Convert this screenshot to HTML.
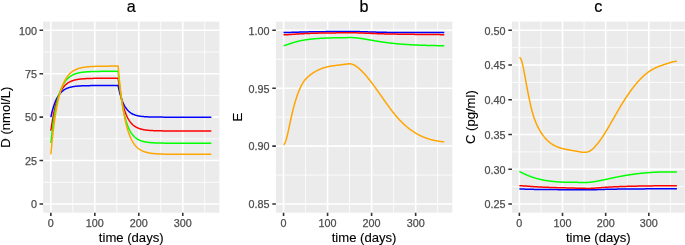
<!DOCTYPE html>
<html><head><meta charset="utf-8"><title>Figure</title>
<style>
html,body{margin:0;padding:0;background:#fff;width:685px;height:245px;overflow:hidden}
svg{display:block}
text{font-family:"Liberation Sans",Arial,Helvetica,sans-serif}
.ax{font-size:10.8px;fill:#4D4D4D;stroke:#4D4D4D;stroke-width:0.25px}
.at{font-size:13.1px;fill:#000;stroke:#000;stroke-width:0.12px}
.tt{font-size:16.1px;fill:#000;stroke:#000;stroke-width:0.2px}
</style></head><body>
<svg width="685" height="245" viewBox="0 0 685 245">
<rect width="685" height="245" fill="#FFFFFF"/>
<rect x="43.1" y="21.6" width="176.26" height="191.1" fill="#EBEBEB"/>
<path d="M43.1 182.29H219.36M43.1 138.86H219.36M43.1 95.44H219.36M43.1 52.01H219.36M72.84 21.6V212.7M116.81 21.6V212.7M160.78 21.6V212.7M204.74 21.6V212.7" stroke="#FFFFFF" stroke-width="0.8" fill="none"/>
<path d="M43.1 204H219.36M43.1 160.57H219.36M43.1 117.15H219.36M43.1 73.72H219.36M43.1 30.3H219.36M50.85 21.6V212.7M94.82 21.6V212.7M138.79 21.6V212.7M182.76 21.6V212.7" stroke="#FFFFFF" stroke-width="1.6" fill="none"/>
<polyline points="50.85,117.15 51.29,115.13 51.73,113.24 52.17,111.47 52.61,109.81 53.05,108.26 53.49,106.81 53.93,105.45 54.37,104.18 54.81,102.99 55.25,101.88 55.69,100.83 56.13,99.86 56.57,98.94 57.01,98.08 57.45,97.28 57.89,96.53 58.32,95.83 58.76,95.17 59.2,94.56 59.64,93.98 60.08,93.44 60.52,92.94 60.96,92.46 61.4,92.02 61.84,91.61 62.28,91.22 62.72,90.86 63.16,90.52 63.6,90.2 64.04,89.9 64.48,89.62 64.92,89.36 65.36,89.12 65.8,88.89 66.24,88.67 66.68,88.47 67.12,88.29 67.56,88.11 68,87.95 68.44,87.79 68.88,87.65 69.32,87.51 69.76,87.39 70.2,87.27 70.64,87.16 71.08,87.05 71.52,86.96 71.96,86.87 72.4,86.78 72.84,86.7 73.27,86.63 73.71,86.56 74.15,86.49 74.59,86.43 75.03,86.37 75.47,86.32 75.91,86.27 76.35,86.22 76.79,86.18 77.23,86.14 77.67,86.1 78.11,86.06 78.55,86.03 78.99,86 79.43,85.97 79.87,85.94 80.31,85.92 80.75,85.89 81.19,85.87 81.63,85.85 82.07,85.83 82.51,85.81 82.95,85.79 83.39,85.78 83.83,85.76 84.27,85.75 84.71,85.73 85.15,85.72 85.59,85.71 86.03,85.7 86.47,85.69 86.91,85.68 87.35,85.67 87.78,85.66 88.22,85.65 88.66,85.64 89.1,85.64 89.54,85.63 89.98,85.63 90.42,85.62 90.86,85.61 91.3,85.61 91.74,85.6 92.18,85.6 92.62,85.6 93.06,85.59 93.5,85.59 93.94,85.59 94.38,85.58 94.82,85.58 95.26,85.58 95.7,85.57 96.14,85.57 96.58,85.57 97.02,85.57 97.46,85.57 97.9,85.56 98.34,85.56 98.78,85.56 99.22,85.56 99.66,85.56 100.1,85.56 100.54,85.55 100.98,85.55 101.42,85.55 101.86,85.55 102.29,85.55 102.73,85.55 103.17,85.55 103.61,85.55 104.05,85.55 104.49,85.55 104.93,85.55 105.37,85.55 105.81,85.54 106.25,85.54 106.69,85.54 107.13,85.54 107.57,85.54 108.01,85.54 108.45,85.54 108.89,85.54 109.33,85.54 109.77,85.54 110.21,85.54 110.65,85.54 111.09,85.54 111.53,85.54 111.97,85.54 112.41,85.54 112.85,85.54 113.29,85.54 113.73,85.54 114.17,85.54 114.61,85.54 115.05,85.54 115.49,85.54 115.93,85.54 116.37,85.54 116.81,85.54 117.24,85.54 117.68,85.54 118.12,85.54 118.56,87.68 119,89.67 119.44,91.53 119.88,93.26 120.32,94.87 120.76,96.38 121.2,97.78 121.64,99.09 122.08,100.31 122.52,101.45 122.96,102.51 123.4,103.5 123.84,104.43 124.28,105.29 124.72,106.09 125.16,106.84 125.6,107.53 126.04,108.18 126.48,108.79 126.92,109.35 127.36,109.88 127.8,110.37 128.24,110.83 128.68,111.26 129.12,111.66 129.56,112.03 130,112.37 130.44,112.7 130.88,113 131.32,113.28 131.75,113.54 132.19,113.78 132.63,114.01 133.07,114.22 133.51,114.42 133.95,114.61 134.39,114.78 134.83,114.94 135.27,115.09 135.71,115.23 136.15,115.36 136.59,115.48 137.03,115.59 137.47,115.7 137.91,115.8 138.35,115.89 138.79,115.97 139.23,116.05 139.67,116.13 140.11,116.2 140.55,116.26 140.99,116.32 141.43,116.38 141.87,116.43 142.31,116.48 142.75,116.52 143.19,116.57 143.63,116.6 144.07,116.64 144.51,116.68 144.95,116.71 145.39,116.74 145.83,116.77 146.26,116.79 146.7,116.82 147.14,116.84 147.58,116.86 148.02,116.88 148.46,116.9 148.9,116.91 149.34,116.93 149.78,116.95 150.22,116.96 150.66,116.97 151.1,116.98 151.54,117 151.98,117.01 152.42,117.02 152.86,117.02 153.3,117.03 153.74,117.04 154.18,117.05 154.62,117.06 155.06,117.06 155.5,117.07 155.94,117.07 156.38,117.08 156.82,117.08 157.26,117.09 157.7,117.09 158.14,117.1 158.58,117.1 159.02,117.1 159.46,117.11 159.9,117.11 160.34,117.11 160.78,117.11 161.21,117.12 161.65,117.12 162.09,117.12 162.53,117.12 162.97,117.12 163.41,117.13 163.85,117.13 164.29,117.13 164.73,117.13 165.17,117.13 165.61,117.13 166.05,117.13 166.49,117.14 166.93,117.14 167.37,117.14 167.81,117.14 168.25,117.14 168.69,117.14 169.13,117.14 169.57,117.14 170.01,117.14 170.45,117.14 170.89,117.14 171.33,117.14 171.77,117.14 172.21,117.14 172.65,117.14 173.09,117.14 173.53,117.15 173.97,117.15 174.41,117.15 174.85,117.15 175.29,117.15 175.72,117.15 176.16,117.15 176.6,117.15 177.04,117.15 177.48,117.15 177.92,117.15 178.36,117.15 178.8,117.15 179.24,117.15 179.68,117.15 180.12,117.15 180.56,117.15 181,117.15 181.44,117.15 181.88,117.15 182.32,117.15 182.76,117.15 183.2,117.15 183.64,117.15 184.08,117.15 184.52,117.15 184.96,117.15 185.4,117.15 185.84,117.15 186.28,117.15 186.72,117.15 187.16,117.15 187.6,117.15 188.04,117.15 188.48,117.15 188.92,117.15 189.36,117.15 189.8,117.15 190.23,117.15 190.67,117.15 191.11,117.15 191.55,117.15 191.99,117.15 192.43,117.15 192.87,117.15 193.31,117.15 193.75,117.15 194.19,117.15 194.63,117.15 195.07,117.15 195.51,117.15 195.95,117.15 196.39,117.15 196.83,117.15 197.27,117.15 197.71,117.15 198.15,117.15 198.59,117.15 199.03,117.15 199.47,117.15 199.91,117.15 200.35,117.15 200.79,117.15 201.23,117.15 201.67,117.15 202.11,117.15 202.55,117.15 202.99,117.15 203.43,117.15 203.87,117.15 204.31,117.15 204.74,117.15 205.18,117.15 205.62,117.15 206.06,117.15 206.5,117.15 206.94,117.15 207.38,117.15 207.82,117.15 208.26,117.15 208.7,117.15 209.14,117.15 209.58,117.15 210.02,117.15 210.46,117.15 210.9,117.15 211.34,117.15" stroke="#0000FF" stroke-width="1.5" fill="none" stroke-linejoin="round" stroke-linecap="butt"/>
<polyline points="50.85,130.96 51.29,127.79 51.73,124.81 52.17,122.01 52.61,119.38 53.05,116.91 53.49,114.58 53.93,112.4 54.37,110.34 54.81,108.41 55.25,106.6 55.69,104.9 56.13,103.29 56.57,101.79 57.01,100.37 57.45,99.04 57.89,97.79 58.32,96.62 58.76,95.51 59.2,94.47 59.64,93.5 60.08,92.58 60.52,91.72 60.96,90.91 61.4,90.15 61.84,89.43 62.28,88.76 62.72,88.13 63.16,87.53 63.6,86.97 64.04,86.45 64.48,85.95 64.92,85.49 65.36,85.06 65.8,84.65 66.24,84.26 66.68,83.9 67.12,83.56 67.56,83.24 68,82.94 68.44,82.66 68.88,82.39 69.32,82.14 69.76,81.91 70.2,81.69 70.64,81.48 71.08,81.28 71.52,81.1 71.96,80.93 72.4,80.77 72.84,80.62 73.27,80.47 73.71,80.34 74.15,80.21 74.59,80.09 75.03,79.98 75.47,79.88 75.91,79.78 76.35,79.69 76.79,79.6 77.23,79.52 77.67,79.44 78.11,79.37 78.55,79.3 78.99,79.24 79.43,79.18 79.87,79.12 80.31,79.07 80.75,79.02 81.19,78.97 81.63,78.93 82.07,78.89 82.51,78.85 82.95,78.81 83.39,78.78 83.83,78.75 84.27,78.71 84.71,78.69 85.15,78.66 85.59,78.63 86.03,78.61 86.47,78.59 86.91,78.57 87.35,78.55 87.78,78.53 88.22,78.51 88.66,78.5 89.1,78.48 89.54,78.47 89.98,78.45 90.42,78.44 90.86,78.43 91.3,78.42 91.74,78.41 92.18,78.4 92.62,78.39 93.06,78.38 93.5,78.37 93.94,78.36 94.38,78.36 94.82,78.35 95.26,78.34 95.7,78.34 96.14,78.33 96.58,78.32 97.02,78.32 97.46,78.31 97.9,78.31 98.34,78.31 98.78,78.3 99.22,78.3 99.66,78.3 100.1,78.29 100.54,78.29 100.98,78.29 101.42,78.28 101.86,78.28 102.29,78.28 102.73,78.28 103.17,78.27 103.61,78.27 104.05,78.27 104.49,78.27 104.93,78.27 105.37,78.27 105.81,78.26 106.25,78.26 106.69,78.26 107.13,78.26 107.57,78.26 108.01,78.26 108.45,78.26 108.89,78.26 109.33,78.26 109.77,78.25 110.21,78.25 110.65,78.25 111.09,78.25 111.53,78.25 111.97,78.25 112.41,78.25 112.85,78.25 113.29,78.25 113.73,78.25 114.17,78.25 114.61,78.25 115.05,78.25 115.49,78.25 115.93,78.25 116.37,78.25 116.81,78.25 117.24,78.25 117.68,78.25 118.12,78.25 118.56,81.51 119,84.58 119.44,87.45 119.88,90.15 120.32,92.68 120.76,95.05 121.2,97.28 121.64,99.37 122.08,101.33 122.52,103.16 122.96,104.89 123.4,106.5 123.84,108.02 124.28,109.44 124.72,110.78 125.16,112.03 125.6,113.2 126.04,114.3 126.48,115.33 126.92,116.3 127.36,117.21 127.8,118.06 128.24,118.86 128.68,119.61 129.12,120.32 129.56,120.98 130,121.6 130.44,122.18 130.88,122.72 131.32,123.23 131.75,123.71 132.19,124.16 132.63,124.58 133.07,124.98 133.51,125.35 133.95,125.7 134.39,126.02 134.83,126.33 135.27,126.61 135.71,126.88 136.15,127.14 136.59,127.37 137.03,127.6 137.47,127.8 137.91,128 138.35,128.18 138.79,128.36 139.23,128.52 139.67,128.67 140.11,128.81 140.55,128.94 140.99,129.07 141.43,129.19 141.87,129.3 142.31,129.4 142.75,129.5 143.19,129.59 143.63,129.67 144.07,129.75 144.51,129.83 144.95,129.9 145.39,129.96 145.83,130.02 146.26,130.08 146.7,130.14 147.14,130.19 147.58,130.24 148.02,130.28 148.46,130.32 148.9,130.36 149.34,130.4 149.78,130.43 150.22,130.47 150.66,130.5 151.1,130.53 151.54,130.55 151.98,130.58 152.42,130.6 152.86,130.62 153.3,130.64 153.74,130.66 154.18,130.68 154.62,130.7 155.06,130.72 155.5,130.73 155.94,130.74 156.38,130.76 156.82,130.77 157.26,130.78 157.7,130.79 158.14,130.8 158.58,130.81 159.02,130.82 159.46,130.83 159.9,130.84 160.34,130.85 160.78,130.85 161.21,130.86 161.65,130.87 162.09,130.87 162.53,130.88 162.97,130.88 163.41,130.89 163.85,130.89 164.29,130.9 164.73,130.9 165.17,130.9 165.61,130.91 166.05,130.91 166.49,130.91 166.93,130.92 167.37,130.92 167.81,130.92 168.25,130.92 168.69,130.93 169.13,130.93 169.57,130.93 170.01,130.93 170.45,130.93 170.89,130.93 171.33,130.94 171.77,130.94 172.21,130.94 172.65,130.94 173.09,130.94 173.53,130.94 173.97,130.94 174.41,130.94 174.85,130.95 175.29,130.95 175.72,130.95 176.16,130.95 176.6,130.95 177.04,130.95 177.48,130.95 177.92,130.95 178.36,130.95 178.8,130.95 179.24,130.95 179.68,130.95 180.12,130.95 180.56,130.95 181,130.95 181.44,130.95 181.88,130.95 182.32,130.95 182.76,130.95 183.2,130.96 183.64,130.96 184.08,130.96 184.52,130.96 184.96,130.96 185.4,130.96 185.84,130.96 186.28,130.96 186.72,130.96 187.16,130.96 187.6,130.96 188.04,130.96 188.48,130.96 188.92,130.96 189.36,130.96 189.8,130.96 190.23,130.96 190.67,130.96 191.11,130.96 191.55,130.96 191.99,130.96 192.43,130.96 192.87,130.96 193.31,130.96 193.75,130.96 194.19,130.96 194.63,130.96 195.07,130.96 195.51,130.96 195.95,130.96 196.39,130.96 196.83,130.96 197.27,130.96 197.71,130.96 198.15,130.96 198.59,130.96 199.03,130.96 199.47,130.96 199.91,130.96 200.35,130.96 200.79,130.96 201.23,130.96 201.67,130.96 202.11,130.96 202.55,130.96 202.99,130.96 203.43,130.96 203.87,130.96 204.31,130.96 204.74,130.96 205.18,130.96 205.62,130.96 206.06,130.96 206.5,130.96 206.94,130.96 207.38,130.96 207.82,130.96 208.26,130.96 208.7,130.96 209.14,130.96 209.58,130.96 210.02,130.96 210.46,130.96 210.9,130.96 211.34,130.96" stroke="#FF0000" stroke-width="1.5" fill="none" stroke-linejoin="round" stroke-linecap="butt"/>
<polyline points="50.85,143.2 51.29,139.02 51.73,135.07 52.17,131.36 52.61,127.86 53.05,124.57 53.49,121.46 53.93,118.54 54.37,115.79 54.81,113.2 55.25,110.76 55.69,108.46 56.13,106.3 56.57,104.26 57.01,102.34 57.45,100.53 57.89,98.83 58.32,97.22 58.76,95.71 59.2,94.29 59.64,92.95 60.08,91.69 60.52,90.5 60.96,89.38 61.4,88.33 61.84,87.34 62.28,86.4 62.72,85.52 63.16,84.7 63.6,83.92 64.04,83.18 64.48,82.49 64.92,81.84 65.36,81.22 65.8,80.64 66.24,80.1 66.68,79.59 67.12,79.1 67.56,78.65 68,78.22 68.44,77.82 68.88,77.44 69.32,77.08 69.76,76.74 70.2,76.42 70.64,76.13 71.08,75.84 71.52,75.58 71.96,75.33 72.4,75.09 72.84,74.87 73.27,74.66 73.71,74.47 74.15,74.28 74.59,74.11 75.03,73.95 75.47,73.79 75.91,73.65 76.35,73.51 76.79,73.38 77.23,73.26 77.67,73.14 78.11,73.04 78.55,72.93 78.99,72.84 79.43,72.75 79.87,72.66 80.31,72.58 80.75,72.51 81.19,72.44 81.63,72.37 82.07,72.31 82.51,72.25 82.95,72.19 83.39,72.14 83.83,72.09 84.27,72.05 84.71,72 85.15,71.96 85.59,71.92 86.03,71.89 86.47,71.85 86.91,71.82 87.35,71.79 87.78,71.76 88.22,71.73 88.66,71.71 89.1,71.68 89.54,71.66 89.98,71.64 90.42,71.62 90.86,71.6 91.3,71.58 91.74,71.56 92.18,71.55 92.62,71.53 93.06,71.52 93.5,71.51 93.94,71.49 94.38,71.48 94.82,71.47 95.26,71.46 95.7,71.45 96.14,71.44 96.58,71.43 97.02,71.43 97.46,71.42 97.9,71.41 98.34,71.4 98.78,71.4 99.22,71.39 99.66,71.39 100.1,71.38 100.54,71.37 100.98,71.37 101.42,71.37 101.86,71.36 102.29,71.36 102.73,71.35 103.17,71.35 103.61,71.35 104.05,71.34 104.49,71.34 104.93,71.34 105.37,71.34 105.81,71.33 106.25,71.33 106.69,71.33 107.13,71.33 107.57,71.32 108.01,71.32 108.45,71.32 108.89,71.32 109.33,71.32 109.77,71.32 110.21,71.32 110.65,71.31 111.09,71.31 111.53,71.31 111.97,71.31 112.41,71.31 112.85,71.31 113.29,71.31 113.73,71.31 114.17,71.31 114.61,71.31 115.05,71.3 115.49,71.3 115.93,71.3 116.37,71.3 116.81,71.3 117.24,71.3 117.68,71.3 118.12,71.3 118.56,75.83 119,80.07 119.44,84.04 119.88,87.76 120.32,91.25 120.76,94.52 121.2,97.59 121.64,100.46 122.08,103.15 122.52,105.67 122.96,108.03 123.4,110.24 123.84,112.32 124.28,114.26 124.72,116.08 125.16,117.79 125.6,119.39 126.04,120.89 126.48,122.29 126.92,123.61 127.36,124.84 127.8,126 128.24,127.08 128.68,128.1 129.12,129.05 129.56,129.94 130,130.77 130.44,131.55 130.88,132.29 131.32,132.97 131.75,133.62 132.19,134.22 132.63,134.79 133.07,135.32 133.51,135.81 133.95,136.28 134.39,136.71 134.83,137.12 135.27,137.51 135.71,137.86 136.15,138.2 136.59,138.52 137.03,138.81 137.47,139.09 137.91,139.35 138.35,139.59 138.79,139.82 139.23,140.03 139.67,140.23 140.11,140.42 140.55,140.59 140.99,140.76 141.43,140.91 141.87,141.06 142.31,141.19 142.75,141.32 143.19,141.44 143.63,141.55 144.07,141.65 144.51,141.75 144.95,141.84 145.39,141.93 145.83,142.01 146.26,142.08 146.7,142.15 147.14,142.22 147.58,142.28 148.02,142.34 148.46,142.39 148.9,142.45 149.34,142.49 149.78,142.54 150.22,142.58 150.66,142.62 151.1,142.66 151.54,142.69 151.98,142.72 152.42,142.75 152.86,142.78 153.3,142.81 153.74,142.83 154.18,142.86 154.62,142.88 155.06,142.9 155.5,142.92 155.94,142.94 156.38,142.95 156.82,142.97 157.26,142.98 157.7,143 158.14,143.01 158.58,143.02 159.02,143.03 159.46,143.05 159.9,143.06 160.34,143.06 160.78,143.07 161.21,143.08 161.65,143.09 162.09,143.1 162.53,143.1 162.97,143.11 163.41,143.12 163.85,143.12 164.29,143.13 164.73,143.13 165.17,143.14 165.61,143.14 166.05,143.14 166.49,143.15 166.93,143.15 167.37,143.16 167.81,143.16 168.25,143.16 168.69,143.16 169.13,143.17 169.57,143.17 170.01,143.17 170.45,143.17 170.89,143.18 171.33,143.18 171.77,143.18 172.21,143.18 172.65,143.18 173.09,143.18 173.53,143.19 173.97,143.19 174.41,143.19 174.85,143.19 175.29,143.19 175.72,143.19 176.16,143.19 176.6,143.19 177.04,143.19 177.48,143.19 177.92,143.19 178.36,143.2 178.8,143.2 179.24,143.2 179.68,143.2 180.12,143.2 180.56,143.2 181,143.2 181.44,143.2 181.88,143.2 182.32,143.2 182.76,143.2 183.2,143.2 183.64,143.2 184.08,143.2 184.52,143.2 184.96,143.2 185.4,143.2 185.84,143.2 186.28,143.2 186.72,143.2 187.16,143.2 187.6,143.2 188.04,143.2 188.48,143.2 188.92,143.2 189.36,143.2 189.8,143.2 190.23,143.2 190.67,143.2 191.11,143.2 191.55,143.2 191.99,143.2 192.43,143.2 192.87,143.2 193.31,143.2 193.75,143.2 194.19,143.2 194.63,143.2 195.07,143.2 195.51,143.2 195.95,143.2 196.39,143.2 196.83,143.2 197.27,143.2 197.71,143.2 198.15,143.2 198.59,143.2 199.03,143.2 199.47,143.2 199.91,143.2 200.35,143.2 200.79,143.2 201.23,143.2 201.67,143.2 202.11,143.2 202.55,143.2 202.99,143.2 203.43,143.2 203.87,143.2 204.31,143.2 204.74,143.2 205.18,143.2 205.62,143.2 206.06,143.2 206.5,143.2 206.94,143.2 207.38,143.2 207.82,143.2 208.26,143.2 208.7,143.2 209.14,143.2 209.58,143.2 210.02,143.2 210.46,143.2 210.9,143.2 211.34,143.2" stroke="#00FF00" stroke-width="1.5" fill="none" stroke-linejoin="round" stroke-linecap="butt"/>
<polyline points="50.85,154.32 51.29,149.43 51.73,144.81 52.17,140.45 52.61,136.33 53.05,132.44 53.49,128.76 53.93,125.29 54.37,122.01 54.81,118.91 55.25,115.98 55.69,113.22 56.13,110.61 56.57,108.14 57.01,105.81 57.45,103.61 57.89,101.53 58.32,99.57 58.76,97.71 59.2,95.96 59.64,94.3 60.08,92.74 60.52,91.26 60.96,89.87 61.4,88.55 61.84,87.3 62.28,86.13 62.72,85.02 63.16,83.97 63.6,82.98 64.04,82.04 64.48,81.16 64.92,80.32 65.36,79.53 65.8,78.79 66.24,78.08 66.68,77.42 67.12,76.79 67.56,76.2 68,75.64 68.44,75.11 68.88,74.61 69.32,74.14 69.76,73.69 70.2,73.27 70.64,72.87 71.08,72.49 71.52,72.14 71.96,71.8 72.4,71.49 72.84,71.19 73.27,70.9 73.71,70.64 74.15,70.38 74.59,70.15 75.03,69.92 75.47,69.71 75.91,69.51 76.35,69.32 76.79,69.14 77.23,68.97 77.67,68.81 78.11,68.66 78.55,68.52 78.99,68.38 79.43,68.25 79.87,68.13 80.31,68.02 80.75,67.91 81.19,67.81 81.63,67.71 82.07,67.62 82.51,67.54 82.95,67.46 83.39,67.38 83.83,67.31 84.27,67.24 84.71,67.18 85.15,67.12 85.59,67.06 86.03,67.01 86.47,66.95 86.91,66.91 87.35,66.86 87.78,66.82 88.22,66.78 88.66,66.74 89.1,66.7 89.54,66.67 89.98,66.63 90.42,66.6 90.86,66.58 91.3,66.55 91.74,66.52 92.18,66.5 92.62,66.47 93.06,66.45 93.5,66.43 93.94,66.41 94.38,66.39 94.82,66.38 95.26,66.36 95.7,66.35 96.14,66.33 96.58,66.32 97.02,66.3 97.46,66.29 97.9,66.28 98.34,66.27 98.78,66.26 99.22,66.25 99.66,66.24 100.1,66.23 100.54,66.22 100.98,66.22 101.42,66.21 101.86,66.2 102.29,66.19 102.73,66.19 103.17,66.18 103.61,66.18 104.05,66.17 104.49,66.17 104.93,66.16 105.37,66.16 105.81,66.15 106.25,66.15 106.69,66.15 107.13,66.14 107.57,66.14 108.01,66.14 108.45,66.13 108.89,66.13 109.33,66.13 109.77,66.12 110.21,66.12 110.65,66.12 111.09,66.12 111.53,66.12 111.97,66.11 112.41,66.11 112.85,66.11 113.29,66.11 113.73,66.11 114.17,66.11 114.61,66.1 115.05,66.1 115.49,66.1 115.93,66.1 116.37,66.1 116.81,66.1 117.24,66.1 117.68,66.1 118.12,66.1 118.56,71.15 119,75.92 119.44,80.41 119.88,84.64 120.32,88.64 120.76,92.4 121.2,95.95 121.64,99.29 122.08,102.44 122.52,105.42 122.96,108.22 123.4,110.86 123.84,113.35 124.28,115.7 124.72,117.91 125.16,120 125.6,121.96 126.04,123.82 126.48,125.56 126.92,127.21 127.36,128.77 127.8,130.23 128.24,131.61 128.68,132.91 129.12,134.14 129.56,135.29 130,136.38 130.44,137.41 130.88,138.38 131.32,139.29 131.75,140.16 132.19,140.97 132.63,141.73 133.07,142.45 133.51,143.13 133.95,143.77 134.39,144.38 134.83,144.95 135.27,145.49 135.71,145.99 136.15,146.47 136.59,146.92 137.03,147.34 137.47,147.74 137.91,148.12 138.35,148.48 138.79,148.81 139.23,149.13 139.67,149.42 140.11,149.7 140.55,149.97 140.99,150.22 141.43,150.45 141.87,150.67 142.31,150.88 142.75,151.08 143.19,151.27 143.63,151.44 144.07,151.61 144.51,151.76 144.95,151.91 145.39,152.05 145.83,152.18 146.26,152.3 146.7,152.42 147.14,152.53 147.58,152.63 148.02,152.73 148.46,152.82 148.9,152.9 149.34,152.98 149.78,153.06 150.22,153.13 150.66,153.2 151.1,153.27 151.54,153.33 151.98,153.38 152.42,153.44 152.86,153.49 153.3,153.54 153.74,153.58 154.18,153.62 154.62,153.66 155.06,153.7 155.5,153.74 155.94,153.77 156.38,153.8 156.82,153.83 157.26,153.86 157.7,153.89 158.14,153.91 158.58,153.93 159.02,153.96 159.46,153.98 159.9,154 160.34,154.02 160.78,154.03 161.21,154.05 161.65,154.07 162.09,154.08 162.53,154.09 162.97,154.11 163.41,154.12 163.85,154.13 164.29,154.14 164.73,154.15 165.17,154.16 165.61,154.17 166.05,154.18 166.49,154.19 166.93,154.2 167.37,154.2 167.81,154.21 168.25,154.22 168.69,154.22 169.13,154.23 169.57,154.23 170.01,154.24 170.45,154.24 170.89,154.25 171.33,154.25 171.77,154.26 172.21,154.26 172.65,154.26 173.09,154.27 173.53,154.27 173.97,154.27 174.41,154.28 174.85,154.28 175.29,154.28 175.72,154.28 176.16,154.29 176.6,154.29 177.04,154.29 177.48,154.29 177.92,154.29 178.36,154.29 178.8,154.3 179.24,154.3 179.68,154.3 180.12,154.3 180.56,154.3 181,154.3 181.44,154.3 181.88,154.3 182.32,154.31 182.76,154.31 183.2,154.31 183.64,154.31 184.08,154.31 184.52,154.31 184.96,154.31 185.4,154.31 185.84,154.31 186.28,154.31 186.72,154.31 187.16,154.31 187.6,154.31 188.04,154.31 188.48,154.31 188.92,154.32 189.36,154.32 189.8,154.32 190.23,154.32 190.67,154.32 191.11,154.32 191.55,154.32 191.99,154.32 192.43,154.32 192.87,154.32 193.31,154.32 193.75,154.32 194.19,154.32 194.63,154.32 195.07,154.32 195.51,154.32 195.95,154.32 196.39,154.32 196.83,154.32 197.27,154.32 197.71,154.32 198.15,154.32 198.59,154.32 199.03,154.32 199.47,154.32 199.91,154.32 200.35,154.32 200.79,154.32 201.23,154.32 201.67,154.32 202.11,154.32 202.55,154.32 202.99,154.32 203.43,154.32 203.87,154.32 204.31,154.32 204.74,154.32 205.18,154.32 205.62,154.32 206.06,154.32 206.5,154.32 206.94,154.32 207.38,154.32 207.82,154.32 208.26,154.32 208.7,154.32 209.14,154.32 209.58,154.32 210.02,154.32 210.46,154.32 210.9,154.32 211.34,154.32" stroke="#FFA500" stroke-width="1.5" fill="none" stroke-linejoin="round" stroke-linecap="butt"/>
<path d="M39.5 204H43.1M39.5 160.57H43.1M39.5 117.15H43.1M39.5 73.72H43.1M39.5 30.3H43.1M50.85 212.7V216M94.82 212.7V216M138.79 212.7V216M182.76 212.7V216" stroke="#333333" stroke-width="1.6" fill="none"/>
<text x="36.93" y="208.3" text-anchor="end" class="ax">0</text>
<text x="36.93" y="164.88" text-anchor="end" class="ax">25</text>
<text x="36.93" y="121.45" text-anchor="end" class="ax">50</text>
<text x="36.93" y="78.02" text-anchor="end" class="ax">75</text>
<text x="36.93" y="34.6" text-anchor="end" class="ax">100</text>
<text x="50.85" y="226.7" text-anchor="middle" class="ax">0</text>
<text x="94.82" y="226.7" text-anchor="middle" class="ax">100</text>
<text x="138.79" y="226.7" text-anchor="middle" class="ax">200</text>
<text x="182.76" y="226.7" text-anchor="middle" class="ax">300</text>
<text x="131.23" y="242.0" text-anchor="middle" class="at">time (days)</text>
<text x="131.23" y="11.6" text-anchor="middle" class="tt">a</text>
<text transform="translate(10 117.15) rotate(-90)" x="0" y="0" text-anchor="middle" class="at">D (nmol/L)</text>
<rect x="275.9" y="21.6" width="176.4" height="191.1" fill="#EBEBEB"/>
<path d="M275.9 175.05H452.3M275.9 117.15H452.3M275.9 59.25H452.3M305.56 21.6V212.7M349.6 21.6V212.7M393.62 21.6V212.7M437.66 21.6V212.7" stroke="#FFFFFF" stroke-width="0.8" fill="none"/>
<path d="M275.9 204H452.3M275.9 146.1H452.3M275.9 88.2H452.3M275.9 30.3H452.3M283.55 21.6V212.7M327.58 21.6V212.7M371.61 21.6V212.7M415.64 21.6V212.7" stroke="#FFFFFF" stroke-width="1.6" fill="none"/>
<polyline points="283.55,32.62 283.99,32.61 284.43,32.6 284.87,32.59 285.31,32.58 285.75,32.57 286.19,32.55 286.63,32.54 287.07,32.52 287.51,32.51 287.95,32.49 288.39,32.48 288.83,32.46 289.27,32.45 289.71,32.43 290.15,32.42 290.59,32.4 291.04,32.39 291.48,32.37 291.92,32.36 292.36,32.34 292.8,32.33 293.24,32.31 293.68,32.3 294.12,32.28 294.56,32.27 295,32.25 295.44,32.24 295.88,32.22 296.32,32.21 296.76,32.2 297.2,32.18 297.64,32.17 298.08,32.15 298.52,32.14 298.96,32.13 299.4,32.11 299.84,32.1 300.28,32.09 300.72,32.07 301.16,32.06 301.6,32.05 302.04,32.03 302.48,32.02 302.92,32.01 303.36,32 303.8,31.98 304.24,31.97 304.68,31.96 305.12,31.95 305.56,31.94 306.01,31.93 306.45,31.92 306.89,31.91 307.33,31.9 307.77,31.89 308.21,31.88 308.65,31.87 309.09,31.86 309.53,31.85 309.97,31.84 310.41,31.83 310.85,31.82 311.29,31.81 311.73,31.81 312.17,31.8 312.61,31.79 313.05,31.78 313.49,31.77 313.93,31.76 314.37,31.75 314.81,31.75 315.25,31.74 315.69,31.73 316.13,31.72 316.57,31.72 317.01,31.71 317.45,31.7 317.89,31.69 318.33,31.69 318.77,31.68 319.21,31.67 319.65,31.67 320.09,31.67 320.54,31.66 320.98,31.66 321.42,31.66 321.86,31.65 322.3,31.65 322.74,31.64 323.18,31.64 323.62,31.64 324.06,31.63 324.5,31.63 324.94,31.63 325.38,31.63 325.82,31.62 326.26,31.62 326.7,31.62 327.14,31.61 327.58,31.61 328.02,31.61 328.46,31.61 328.9,31.6 329.34,31.6 329.78,31.6 330.22,31.6 330.66,31.59 331.1,31.59 331.54,31.59 331.98,31.59 332.42,31.58 332.86,31.58 333.3,31.58 333.74,31.58 334.18,31.57 334.62,31.57 335.07,31.57 335.51,31.57 335.95,31.57 336.39,31.56 336.83,31.56 337.27,31.56 337.71,31.56 338.15,31.56 338.59,31.56 339.03,31.55 339.47,31.55 339.91,31.55 340.35,31.55 340.79,31.55 341.23,31.55 341.67,31.54 342.11,31.54 342.55,31.54 342.99,31.54 343.43,31.54 343.87,31.54 344.31,31.54 344.75,31.53 345.19,31.53 345.63,31.53 346.07,31.53 346.51,31.53 346.95,31.53 347.39,31.53 347.83,31.53 348.27,31.52 348.71,31.52 349.15,31.52 349.6,31.52 350.04,31.52 350.48,31.52 350.92,31.52 351.36,31.52 351.8,31.52 352.24,31.52 352.68,31.52 353.12,31.52 353.56,31.52 354,31.53 354.44,31.53 354.88,31.53 355.32,31.54 355.76,31.54 356.2,31.55 356.64,31.55 357.08,31.56 357.52,31.56 357.96,31.57 358.4,31.58 358.84,31.59 359.28,31.6 359.72,31.61 360.16,31.63 360.6,31.64 361.04,31.65 361.48,31.67 361.92,31.68 362.36,31.69 362.8,31.71 363.24,31.72 363.68,31.74 364.12,31.75 364.57,31.76 365.01,31.78 365.45,31.79 365.89,31.81 366.33,31.82 366.77,31.83 367.21,31.85 367.65,31.86 368.09,31.88 368.53,31.89 368.97,31.91 369.41,31.92 369.85,31.93 370.29,31.95 370.73,31.96 371.17,31.97 371.61,31.99 372.05,32 372.49,32.02 372.93,32.03 373.37,32.04 373.81,32.06 374.25,32.07 374.69,32.08 375.13,32.09 375.57,32.11 376.01,32.12 376.45,32.13 376.89,32.14 377.33,32.16 377.77,32.17 378.21,32.18 378.65,32.19 379.1,32.2 379.54,32.22 379.98,32.23 380.42,32.24 380.86,32.25 381.3,32.26 381.74,32.27 382.18,32.28 382.62,32.3 383.06,32.31 383.5,32.32 383.94,32.33 384.38,32.34 384.82,32.35 385.26,32.35 385.7,32.36 386.14,32.36 386.58,32.37 387.02,32.38 387.46,32.38 387.9,32.39 388.34,32.39 388.78,32.4 389.22,32.4 389.66,32.4 390.1,32.41 390.54,32.41 390.98,32.42 391.42,32.42 391.86,32.43 392.3,32.43 392.74,32.43 393.18,32.44 393.62,32.44 394.07,32.45 394.51,32.45 394.95,32.45 395.39,32.46 395.83,32.46 396.27,32.46 396.71,32.47 397.15,32.47 397.59,32.47 398.03,32.48 398.47,32.48 398.91,32.48 399.35,32.49 399.79,32.49 400.23,32.49 400.67,32.49 401.11,32.5 401.55,32.5 401.99,32.5 402.43,32.5 402.87,32.51 403.31,32.51 403.75,32.51 404.19,32.51 404.63,32.52 405.07,32.52 405.51,32.52 405.95,32.52 406.39,32.52 406.83,32.53 407.27,32.53 407.71,32.53 408.15,32.53 408.6,32.53 409.04,32.54 409.48,32.54 409.92,32.54 410.36,32.54 410.8,32.54 411.24,32.54 411.68,32.55 412.12,32.55 412.56,32.55 413,32.55 413.44,32.55 413.88,32.55 414.32,32.56 414.76,32.56 415.2,32.56 415.64,32.56 416.08,32.56 416.52,32.56 416.96,32.56 417.4,32.56 417.84,32.57 418.28,32.57 418.72,32.57 419.16,32.57 419.6,32.57 420.04,32.57 420.48,32.57 420.92,32.57 421.36,32.58 421.8,32.58 422.24,32.58 422.68,32.58 423.13,32.58 423.57,32.58 424.01,32.58 424.45,32.58 424.89,32.58 425.33,32.58 425.77,32.59 426.21,32.59 426.65,32.59 427.09,32.59 427.53,32.59 427.97,32.59 428.41,32.59 428.85,32.59 429.29,32.59 429.73,32.59 430.17,32.59 430.61,32.59 431.05,32.59 431.49,32.6 431.93,32.6 432.37,32.6 432.81,32.6 433.25,32.6 433.69,32.6 434.13,32.6 434.57,32.6 435.01,32.6 435.45,32.6 435.89,32.6 436.33,32.6 436.77,32.6 437.21,32.6 437.66,32.61 438.1,32.61 438.54,32.61 438.98,32.61 439.42,32.61 439.86,32.61 440.3,32.61 440.74,32.61 441.18,32.61 441.62,32.61 442.06,32.61 442.5,32.61 442.94,32.61 443.38,32.61 443.82,32.61 444.26,32.61" stroke="#0000FF" stroke-width="1.5" fill="none" stroke-linejoin="round" stroke-linecap="butt"/>
<polyline points="283.55,34.86 283.99,34.85 284.43,34.84 284.87,34.83 285.31,34.81 285.75,34.79 286.19,34.77 286.63,34.74 287.07,34.72 287.51,34.69 287.95,34.66 288.39,34.64 288.83,34.61 289.27,34.58 289.71,34.55 290.15,34.52 290.59,34.49 291.04,34.46 291.48,34.42 291.92,34.39 292.36,34.36 292.8,34.33 293.24,34.3 293.68,34.27 294.12,34.24 294.56,34.21 295,34.18 295.44,34.15 295.88,34.12 296.32,34.09 296.76,34.06 297.2,34.03 297.64,34 298.08,33.98 298.52,33.95 298.96,33.92 299.4,33.9 299.84,33.87 300.28,33.84 300.72,33.82 301.16,33.79 301.6,33.77 302.04,33.74 302.48,33.72 302.92,33.7 303.36,33.67 303.8,33.65 304.24,33.63 304.68,33.61 305.12,33.59 305.56,33.57 306.01,33.55 306.45,33.53 306.89,33.51 307.33,33.49 307.77,33.47 308.21,33.45 308.65,33.43 309.09,33.42 309.53,33.4 309.97,33.38 310.41,33.37 310.85,33.35 311.29,33.33 311.73,33.32 312.17,33.3 312.61,33.29 313.05,33.27 313.49,33.26 313.93,33.25 314.37,33.23 314.81,33.22 315.25,33.2 315.69,33.19 316.13,33.18 316.57,33.17 317.01,33.16 317.45,33.14 317.89,33.13 318.33,33.12 318.77,33.11 319.21,33.1 319.65,33.09 320.09,33.08 320.54,33.07 320.98,33.07 321.42,33.06 321.86,33.05 322.3,33.04 322.74,33.03 323.18,33.03 323.62,33.02 324.06,33.01 324.5,33.01 324.94,33 325.38,32.99 325.82,32.99 326.26,32.98 326.7,32.97 327.14,32.97 327.58,32.96 328.02,32.96 328.46,32.95 328.9,32.95 329.34,32.94 329.78,32.94 330.22,32.93 330.66,32.93 331.1,32.92 331.54,32.92 331.98,32.91 332.42,32.91 332.86,32.9 333.3,32.9 333.74,32.89 334.18,32.89 334.62,32.89 335.07,32.88 335.51,32.88 335.95,32.88 336.39,32.87 336.83,32.87 337.27,32.87 337.71,32.86 338.15,32.86 338.59,32.86 339.03,32.85 339.47,32.85 339.91,32.85 340.35,32.84 340.79,32.84 341.23,32.84 341.67,32.84 342.11,32.83 342.55,32.83 342.99,32.83 343.43,32.83 343.87,32.82 344.31,32.82 344.75,32.82 345.19,32.82 345.63,32.82 346.07,32.81 346.51,32.81 346.95,32.81 347.39,32.81 347.83,32.81 348.27,32.81 348.71,32.8 349.15,32.8 349.6,32.8 350.04,32.8 350.48,32.8 350.92,32.8 351.36,32.79 351.8,32.79 352.24,32.8 352.68,32.8 353.12,32.8 353.56,32.81 354,32.81 354.44,32.82 354.88,32.83 355.32,32.83 355.76,32.84 356.2,32.85 356.64,32.86 357.08,32.87 357.52,32.88 357.96,32.89 358.4,32.9 358.84,32.92 359.28,32.93 359.72,32.95 360.16,32.97 360.6,32.98 361.04,33 361.48,33.02 361.92,33.04 362.36,33.05 362.8,33.07 363.24,33.09 363.68,33.11 364.12,33.12 364.57,33.14 365.01,33.16 365.45,33.18 365.89,33.19 366.33,33.21 366.77,33.23 367.21,33.25 367.65,33.26 368.09,33.28 368.53,33.3 368.97,33.32 369.41,33.33 369.85,33.35 370.29,33.37 370.73,33.39 371.17,33.4 371.61,33.42 372.05,33.44 372.49,33.45 372.93,33.47 373.37,33.49 373.81,33.5 374.25,33.52 374.69,33.54 375.13,33.55 375.57,33.57 376.01,33.58 376.45,33.6 376.89,33.62 377.33,33.63 377.77,33.65 378.21,33.66 378.65,33.68 379.1,33.7 379.54,33.71 379.98,33.73 380.42,33.74 380.86,33.76 381.3,33.77 381.74,33.79 382.18,33.8 382.62,33.82 383.06,33.83 383.5,33.85 383.94,33.86 384.38,33.88 384.82,33.89 385.26,33.9 385.7,33.91 386.14,33.92 386.58,33.93 387.02,33.94 387.46,33.95 387.9,33.95 388.34,33.96 388.78,33.97 389.22,33.98 389.66,33.99 390.1,34 390.54,34.01 390.98,34.02 391.42,34.02 391.86,34.03 392.3,34.04 392.74,34.05 393.18,34.06 393.62,34.06 394.07,34.07 394.51,34.08 394.95,34.09 395.39,34.1 395.83,34.1 396.27,34.11 396.71,34.12 397.15,34.13 397.59,34.13 398.03,34.14 398.47,34.15 398.91,34.16 399.35,34.16 399.79,34.17 400.23,34.18 400.67,34.18 401.11,34.19 401.55,34.2 401.99,34.2 402.43,34.21 402.87,34.22 403.31,34.22 403.75,34.23 404.19,34.24 404.63,34.24 405.07,34.25 405.51,34.26 405.95,34.26 406.39,34.27 406.83,34.28 407.27,34.28 407.71,34.29 408.15,34.29 408.6,34.3 409.04,34.31 409.48,34.31 409.92,34.32 410.36,34.32 410.8,34.33 411.24,34.34 411.68,34.34 412.12,34.35 412.56,34.35 413,34.36 413.44,34.36 413.88,34.37 414.32,34.37 414.76,34.38 415.2,34.39 415.64,34.39 416.08,34.4 416.52,34.4 416.96,34.41 417.4,34.41 417.84,34.42 418.28,34.42 418.72,34.43 419.16,34.43 419.6,34.44 420.04,34.44 420.48,34.45 420.92,34.45 421.36,34.46 421.8,34.46 422.24,34.46 422.68,34.47 423.13,34.47 423.57,34.48 424.01,34.48 424.45,34.49 424.89,34.49 425.33,34.5 425.77,34.5 426.21,34.51 426.65,34.51 427.09,34.51 427.53,34.52 427.97,34.52 428.41,34.53 428.85,34.53 429.29,34.53 429.73,34.54 430.17,34.54 430.61,34.55 431.05,34.55 431.49,34.55 431.93,34.56 432.37,34.56 432.81,34.57 433.25,34.57 433.69,34.57 434.13,34.58 434.57,34.58 435.01,34.58 435.45,34.59 435.89,34.59 436.33,34.6 436.77,34.6 437.21,34.6 437.66,34.61 438.1,34.61 438.54,34.61 438.98,34.62 439.42,34.62 439.86,34.62 440.3,34.63 440.74,34.63 441.18,34.63 441.62,34.64 442.06,34.64 442.5,34.64 442.94,34.65 443.38,34.65 443.82,34.65 444.26,34.65" stroke="#FF0000" stroke-width="1.5" fill="none" stroke-linejoin="round" stroke-linecap="butt"/>
<polyline points="283.55,45.69 283.99,45.62 284.43,45.5 284.87,45.37 285.31,45.24 285.75,45.09 286.19,44.95 286.63,44.8 287.07,44.66 287.51,44.51 287.95,44.37 288.39,44.22 288.83,44.08 289.27,43.94 289.71,43.81 290.15,43.68 290.59,43.52 291.04,43.36 291.48,43.21 291.92,43.06 292.36,42.92 292.8,42.78 293.24,42.64 293.68,42.5 294.12,42.37 294.56,42.23 295,42.11 295.44,41.98 295.88,41.86 296.32,41.74 296.76,41.63 297.2,41.51 297.64,41.4 298.08,41.29 298.52,41.19 298.96,41.09 299.4,40.99 299.84,40.89 300.28,40.79 300.72,40.7 301.16,40.61 301.6,40.52 302.04,40.44 302.48,40.36 302.92,40.27 303.36,40.2 303.8,40.12 304.24,40.04 304.68,39.97 305.12,39.9 305.56,39.83 306.01,39.76 306.45,39.7 306.89,39.64 307.33,39.57 307.77,39.51 308.21,39.46 308.65,39.4 309.09,39.34 309.53,39.29 309.97,39.24 310.41,39.19 310.85,39.14 311.29,39.09 311.73,39.04 312.17,39 312.61,38.95 313.05,38.91 313.49,38.87 313.93,38.83 314.37,38.79 314.81,38.75 315.25,38.71 315.69,38.68 316.13,38.64 316.57,38.61 317.01,38.58 317.45,38.54 317.89,38.51 318.33,38.48 318.77,38.45 319.21,38.43 319.65,38.4 320.09,38.37 320.54,38.34 320.98,38.32 321.42,38.29 321.86,38.27 322.3,38.25 322.74,38.23 323.18,38.2 323.62,38.18 324.06,38.16 324.5,38.14 324.94,38.12 325.38,38.1 325.82,38.08 326.26,38.07 326.7,38.05 327.14,38.03 327.58,38.02 328.02,38 328.46,37.99 328.9,37.97 329.34,37.96 329.78,37.94 330.22,37.93 330.66,37.92 331.1,37.9 331.54,37.89 331.98,37.88 332.42,37.87 332.86,37.86 333.3,37.84 333.74,37.83 334.18,37.82 334.62,37.81 335.07,37.8 335.51,37.79 335.95,37.78 336.39,37.78 336.83,37.77 337.27,37.76 337.71,37.75 338.15,37.74 338.59,37.73 339.03,37.73 339.47,37.72 339.91,37.71 340.35,37.71 340.79,37.7 341.23,37.69 341.67,37.69 342.11,37.68 342.55,37.68 342.99,37.67 343.43,37.66 343.87,37.66 344.31,37.65 344.75,37.65 345.19,37.64 345.63,37.64 346.07,37.63 346.51,37.63 346.95,37.63 347.39,37.62 347.83,37.62 348.27,37.61 348.71,37.61 349.15,37.61 349.6,37.6 350.04,37.6 350.48,37.59 350.92,37.59 351.36,37.59 351.8,37.59 352.24,37.6 352.68,37.61 353.12,37.63 353.56,37.65 354,37.68 354.44,37.7 354.88,37.74 355.32,37.77 355.76,37.81 356.2,37.85 356.64,37.89 357.08,37.94 357.52,37.99 357.96,38.04 358.4,38.1 358.84,38.15 359.28,38.21 359.72,38.27 360.16,38.33 360.6,38.4 361.04,38.46 361.48,38.53 361.92,38.59 362.36,38.66 362.8,38.73 363.24,38.81 363.68,38.88 364.12,38.95 364.57,39.03 365.01,39.1 365.45,39.18 365.89,39.25 366.33,39.33 366.77,39.4 367.21,39.48 367.65,39.56 368.09,39.64 368.53,39.71 368.97,39.79 369.41,39.87 369.85,39.95 370.29,40.03 370.73,40.1 371.17,40.18 371.61,40.26 372.05,40.34 372.49,40.41 372.93,40.49 373.37,40.57 373.81,40.64 374.25,40.72 374.69,40.79 375.13,40.87 375.57,40.94 376.01,41.02 376.45,41.09 376.89,41.16 377.33,41.23 377.77,41.3 378.21,41.37 378.65,41.45 379.1,41.51 379.54,41.58 379.98,41.65 380.42,41.72 380.86,41.79 381.3,41.85 381.74,41.92 382.18,41.98 382.62,42.05 383.06,42.11 383.5,42.17 383.94,42.23 384.38,42.3 384.82,42.36 385.26,42.42 385.7,42.48 386.14,42.53 386.58,42.59 387.02,42.65 387.46,42.7 387.9,42.76 388.34,42.81 388.78,42.87 389.22,42.92 389.66,42.97 390.1,43.02 390.54,43.08 390.98,43.13 391.42,43.18 391.86,43.22 392.3,43.27 392.74,43.32 393.18,43.37 393.62,43.41 394.07,43.46 394.51,43.5 394.95,43.55 395.39,43.59 395.83,43.63 396.27,43.68 396.71,43.72 397.15,43.76 397.59,43.8 398.03,43.84 398.47,43.88 398.91,43.91 399.35,43.95 399.79,43.99 400.23,44.03 400.67,44.06 401.11,44.1 401.55,44.13 401.99,44.17 402.43,44.2 402.87,44.23 403.31,44.27 403.75,44.3 404.19,44.33 404.63,44.36 405.07,44.39 405.51,44.42 405.95,44.45 406.39,44.48 406.83,44.51 407.27,44.53 407.71,44.56 408.15,44.59 408.6,44.62 409.04,44.64 409.48,44.67 409.92,44.69 410.36,44.72 410.8,44.74 411.24,44.77 411.68,44.79 412.12,44.81 412.56,44.84 413,44.86 413.44,44.88 413.88,44.9 414.32,44.92 414.76,44.94 415.2,44.97 415.64,44.99 416.08,45.01 416.52,45.02 416.96,45.04 417.4,45.06 417.84,45.08 418.28,45.1 418.72,45.12 419.16,45.13 419.6,45.15 420.04,45.17 420.48,45.19 420.92,45.2 421.36,45.22 421.8,45.23 422.24,45.25 422.68,45.26 423.13,45.28 423.57,45.29 424.01,45.31 424.45,45.32 424.89,45.34 425.33,45.35 425.77,45.36 426.21,45.38 426.65,45.39 427.09,45.4 427.53,45.41 427.97,45.43 428.41,45.44 428.85,45.45 429.29,45.46 429.73,45.47 430.17,45.48 430.61,45.5 431.05,45.51 431.49,45.52 431.93,45.53 432.37,45.54 432.81,45.55 433.25,45.56 433.69,45.57 434.13,45.58 434.57,45.59 435.01,45.6 435.45,45.6 435.89,45.61 436.33,45.62 436.77,45.63 437.21,45.64 437.66,45.65 438.1,45.66 438.54,45.66 438.98,45.67 439.42,45.68 439.86,45.69 440.3,45.69 440.74,45.7 441.18,45.71 441.62,45.71 442.06,45.72 442.5,45.73 442.94,45.73 443.38,45.74 443.82,45.75 444.26,45.75" stroke="#00FF00" stroke-width="1.5" fill="none" stroke-linejoin="round" stroke-linecap="butt"/>
<polyline points="283.55,144.68 283.99,144.44 284.43,143.93 284.87,143.17 285.31,142.19 285.75,140.99 286.19,139.61 286.63,138.07 287.07,136.38 287.51,134.57 287.95,132.66 288.39,130.66 288.83,128.61 289.27,126.53 289.71,124.42 290.15,122.32 290.59,120.25 291.04,118.23 291.48,116.26 291.92,114.34 292.36,112.49 292.8,110.69 293.24,108.94 293.68,107.25 294.12,105.61 294.56,104.02 295,102.48 295.44,101 295.88,99.56 296.32,98.17 296.76,96.84 297.2,95.55 297.64,94.31 298.08,93.11 298.52,91.96 298.96,90.86 299.4,89.8 299.84,88.79 300.28,87.81 300.72,86.89 301.16,86 301.6,85.15 302.04,84.35 302.48,83.58 302.92,82.86 303.36,82.17 303.8,81.52 304.24,80.9 304.68,80.32 305.12,79.76 305.56,79.24 306.01,78.74 306.45,78.26 306.89,77.81 307.33,77.38 307.77,76.97 308.21,76.58 308.65,76.2 309.09,75.83 309.53,75.48 309.97,75.14 310.41,74.8 310.85,74.47 311.29,74.15 311.73,73.84 312.17,73.53 312.61,73.23 313.05,72.94 313.49,72.66 313.93,72.38 314.37,72.11 314.81,71.85 315.25,71.59 315.69,71.34 316.13,71.09 316.57,70.86 317.01,70.63 317.45,70.4 317.89,70.18 318.33,69.97 318.77,69.76 319.21,69.56 319.65,69.37 320.09,69.18 320.54,69 320.98,68.82 321.42,68.65 321.86,68.48 322.3,68.32 322.74,68.17 323.18,68.02 323.62,67.87 324.06,67.73 324.5,67.6 324.94,67.47 325.38,67.34 325.82,67.22 326.26,67.11 326.7,67 327.14,66.89 327.58,66.79 328.02,66.69 328.46,66.59 328.9,66.5 329.34,66.42 329.78,66.33 330.22,66.25 330.66,66.18 331.1,66.1 331.54,66.03 331.98,65.96 332.42,65.89 332.86,65.83 333.3,65.76 333.74,65.7 334.18,65.64 334.62,65.59 335.07,65.53 335.51,65.47 335.95,65.42 336.39,65.37 336.83,65.31 337.27,65.26 337.71,65.21 338.15,65.16 338.59,65.11 339.03,65.05 339.47,65 339.91,64.95 340.35,64.89 340.79,64.84 341.23,64.78 341.67,64.73 342.11,64.67 342.55,64.61 342.99,64.55 343.43,64.48 343.87,64.42 344.31,64.35 344.75,64.28 345.19,64.21 345.63,64.14 346.07,64.08 346.51,64.02 346.95,63.96 347.39,63.92 347.83,63.88 348.27,63.85 348.71,63.83 349.15,63.83 349.6,63.83 350.04,63.86 350.48,63.9 350.92,63.96 351.36,64.04 351.8,64.14 352.24,64.26 352.68,64.41 353.12,64.58 353.56,64.76 354,64.97 354.44,65.2 354.88,65.45 355.32,65.71 355.76,65.99 356.2,66.29 356.64,66.61 357.08,66.93 357.52,67.27 357.96,67.63 358.4,68 358.84,68.37 359.28,68.76 359.72,69.16 360.16,69.57 360.6,69.98 361.04,70.41 361.48,70.84 361.92,71.28 362.36,71.72 362.8,72.18 363.24,72.64 363.68,73.11 364.12,73.59 364.57,74.07 365.01,74.56 365.45,75.06 365.89,75.56 366.33,76.07 366.77,76.59 367.21,77.11 367.65,77.64 368.09,78.17 368.53,78.71 368.97,79.26 369.41,79.81 369.85,80.37 370.29,80.93 370.73,81.49 371.17,82.06 371.61,82.64 372.05,83.22 372.49,83.8 372.93,84.39 373.37,84.98 373.81,85.58 374.25,86.18 374.69,86.78 375.13,87.39 375.57,88 376.01,88.61 376.45,89.22 376.89,89.84 377.33,90.46 377.77,91.08 378.21,91.7 378.65,92.33 379.1,92.95 379.54,93.58 379.98,94.21 380.42,94.83 380.86,95.46 381.3,96.09 381.74,96.72 382.18,97.35 382.62,97.98 383.06,98.61 383.5,99.23 383.94,99.86 384.38,100.49 384.82,101.11 385.26,101.73 385.7,102.35 386.14,102.97 386.58,103.59 387.02,104.2 387.46,104.82 387.9,105.43 388.34,106.03 388.78,106.64 389.22,107.24 389.66,107.83 390.1,108.43 390.54,109.01 390.98,109.6 391.42,110.18 391.86,110.75 392.3,111.33 392.74,111.89 393.18,112.45 393.62,113.01 394.07,113.56 394.51,114.1 394.95,114.64 395.39,115.17 395.83,115.7 396.27,116.22 396.71,116.73 397.15,117.24 397.59,117.74 398.03,118.23 398.47,118.72 398.91,119.2 399.35,119.67 399.79,120.14 400.23,120.6 400.67,121.05 401.11,121.5 401.55,121.94 401.99,122.38 402.43,122.81 402.87,123.23 403.31,123.65 403.75,124.06 404.19,124.47 404.63,124.87 405.07,125.27 405.51,125.65 405.95,126.04 406.39,126.41 406.83,126.79 407.27,127.15 407.71,127.51 408.15,127.87 408.6,128.22 409.04,128.56 409.48,128.9 409.92,129.23 410.36,129.56 410.8,129.88 411.24,130.2 411.68,130.51 412.12,130.81 412.56,131.11 413,131.41 413.44,131.7 413.88,131.99 414.32,132.27 414.76,132.54 415.2,132.81 415.64,133.08 416.08,133.34 416.52,133.6 416.96,133.85 417.4,134.09 417.84,134.34 418.28,134.57 418.72,134.81 419.16,135.04 419.6,135.26 420.04,135.48 420.48,135.69 420.92,135.9 421.36,136.11 421.8,136.31 422.24,136.51 422.68,136.7 423.13,136.89 423.57,137.07 424.01,137.25 424.45,137.43 424.89,137.6 425.33,137.77 425.77,137.94 426.21,138.1 426.65,138.25 427.09,138.41 427.53,138.55 427.97,138.7 428.41,138.84 428.85,138.98 429.29,139.11 429.73,139.24 430.17,139.37 430.61,139.49 431.05,139.61 431.49,139.73 431.93,139.84 432.37,139.95 432.81,140.06 433.25,140.16 433.69,140.26 434.13,140.36 434.57,140.45 435.01,140.54 435.45,140.63 435.89,140.71 436.33,140.79 436.77,140.87 437.21,140.95 437.66,141.02 438.1,141.09 438.54,141.15 438.98,141.22 439.42,141.28 439.86,141.34 440.3,141.39 440.74,141.45 441.18,141.5 441.62,141.54 442.06,141.59 442.5,141.63 442.94,141.67 443.38,141.71 443.82,141.75 444.26,141.78" stroke="#FFA500" stroke-width="1.5" fill="none" stroke-linejoin="round" stroke-linecap="butt"/>
<path d="M272.3 204H275.9M272.3 146.1H275.9M272.3 88.2H275.9M272.3 30.3H275.9M283.55 212.7V216M327.58 212.7V216M371.61 212.7V216M415.64 212.7V216" stroke="#333333" stroke-width="1.6" fill="none"/>
<text x="269.61" y="208.3" text-anchor="end" class="ax">0.85</text>
<text x="269.61" y="150.4" text-anchor="end" class="ax">0.90</text>
<text x="269.61" y="92.5" text-anchor="end" class="ax">0.95</text>
<text x="269.61" y="34.6" text-anchor="end" class="ax">1.00</text>
<text x="283.55" y="226.7" text-anchor="middle" class="ax">0</text>
<text x="327.58" y="226.7" text-anchor="middle" class="ax">100</text>
<text x="371.61" y="226.7" text-anchor="middle" class="ax">200</text>
<text x="415.64" y="226.7" text-anchor="middle" class="ax">300</text>
<text x="364.1" y="242.0" text-anchor="middle" class="at">time (days)</text>
<text x="364.1" y="11.6" text-anchor="middle" class="tt">b</text>
<text transform="translate(241.9 117.15) rotate(-90)" x="0" y="0" text-anchor="middle" class="at">E</text>
<rect x="511.95" y="21.6" width="172.81" height="191.1" fill="#EBEBEB"/>
<path d="M511.95 186.63H684.76M511.95 151.89H684.76M511.95 117.15H684.76M511.95 82.41H684.76M511.95 47.67H684.76M540.93 21.6V212.7M584.09 21.6V212.7M627.25 21.6V212.7M670.41 21.6V212.7" stroke="#FFFFFF" stroke-width="0.8" fill="none"/>
<path d="M511.95 204H684.76M511.95 169.26H684.76M511.95 134.52H684.76M511.95 99.78H684.76M511.95 65.04H684.76M511.95 30.3H684.76M519.35 21.6V212.7M562.51 21.6V212.7M605.67 21.6V212.7M648.83 21.6V212.7" stroke="#FFFFFF" stroke-width="1.6" fill="none"/>
<polyline points="519.35,188.99 519.78,189 520.21,189 520.64,189.01 521.08,189.02 521.51,189.03 521.94,189.04 522.37,189.05 522.8,189.06 523.23,189.08 523.67,189.09 524.1,189.11 524.53,189.12 524.96,189.14 525.39,189.15 525.82,189.16 526.26,189.18 526.69,189.19 527.12,189.21 527.55,189.22 527.98,189.23 528.41,189.25 528.85,189.26 529.28,189.27 529.71,189.28 530.14,189.29 530.57,189.31 531,189.32 531.43,189.33 531.87,189.34 532.3,189.35 532.73,189.36 533.16,189.37 533.59,189.37 534.02,189.38 534.46,189.39 534.89,189.4 535.32,189.41 535.75,189.41 536.18,189.42 536.61,189.43 537.05,189.44 537.48,189.44 537.91,189.45 538.34,189.46 538.77,189.46 539.2,189.47 539.64,189.47 540.07,189.48 540.5,189.48 540.93,189.49 541.36,189.5 541.79,189.5 542.22,189.51 542.66,189.51 543.09,189.52 543.52,189.52 543.95,189.53 544.38,189.53 544.81,189.54 545.25,189.54 545.68,189.54 546.11,189.55 546.54,189.55 546.97,189.55 547.4,189.56 547.84,189.56 548.27,189.56 548.7,189.57 549.13,189.57 549.56,189.57 549.99,189.58 550.43,189.58 550.86,189.58 551.29,189.58 551.72,189.59 552.15,189.59 552.58,189.59 553.01,189.6 553.45,189.6 553.88,189.6 554.31,189.6 554.74,189.61 555.17,189.61 555.6,189.61 556.04,189.62 556.47,189.62 556.9,189.62 557.33,189.62 557.76,189.63 558.19,189.63 558.63,189.63 559.06,189.63 559.49,189.64 559.92,189.64 560.35,189.64 560.78,189.64 561.22,189.65 561.65,189.65 562.08,189.65 562.51,189.66 562.94,189.66 563.37,189.66 563.8,189.66 564.24,189.67 564.67,189.67 565.1,189.67 565.53,189.67 565.96,189.68 566.39,189.68 566.83,189.68 567.26,189.68 567.69,189.69 568.12,189.69 568.55,189.69 568.98,189.69 569.42,189.7 569.85,189.7 570.28,189.7 570.71,189.7 571.14,189.71 571.57,189.71 572.01,189.71 572.44,189.71 572.87,189.71 573.3,189.72 573.73,189.72 574.16,189.72 574.59,189.72 575.03,189.73 575.46,189.73 575.89,189.73 576.32,189.73 576.75,189.74 577.18,189.74 577.62,189.74 578.05,189.74 578.48,189.75 578.91,189.75 579.34,189.75 579.77,189.75 580.21,189.76 580.64,189.76 581.07,189.76 581.5,189.76 581.93,189.77 582.36,189.77 582.8,189.77 583.23,189.77 583.66,189.77 584.09,189.78 584.52,189.78 584.95,189.78 585.38,189.78 585.82,189.78 586.25,189.78 586.68,189.78 587.11,189.79 587.54,189.79 587.97,189.79 588.41,189.8 588.84,189.8 589.27,189.8 589.7,189.8 590.13,189.79 590.56,189.79 591,189.79 591.43,189.78 591.86,189.77 592.29,189.77 592.72,189.76 593.15,189.75 593.59,189.74 594.02,189.72 594.45,189.71 594.88,189.7 595.31,189.69 595.74,189.67 596.17,189.66 596.61,189.64 597.04,189.63 597.47,189.61 597.9,189.6 598.33,189.59 598.76,189.57 599.2,189.56 599.63,189.54 600.06,189.53 600.49,189.51 600.92,189.5 601.35,189.48 601.79,189.47 602.22,189.46 602.65,189.44 603.08,189.43 603.51,189.42 603.94,189.4 604.38,189.39 604.81,189.38 605.24,189.37 605.67,189.36 606.1,189.34 606.53,189.33 606.96,189.32 607.4,189.31 607.83,189.3 608.26,189.29 608.69,189.28 609.12,189.27 609.55,189.26 609.99,189.25 610.42,189.24 610.85,189.23 611.28,189.22 611.71,189.21 612.14,189.21 612.58,189.2 613.01,189.19 613.44,189.18 613.87,189.18 614.3,189.17 614.73,189.16 615.17,189.15 615.6,189.15 616.03,189.14 616.46,189.13 616.89,189.13 617.32,189.12 617.75,189.11 618.19,189.11 618.62,189.1 619.05,189.1 619.48,189.09 619.91,189.09 620.34,189.08 620.78,189.07 621.21,189.07 621.64,189.06 622.07,189.06 622.5,189.05 622.93,189.05 623.37,189.04 623.8,189.04 624.23,189.03 624.66,189.03 625.09,189.03 625.52,189.02 625.96,189.02 626.39,189.01 626.82,189.01 627.25,189 627.68,189 628.11,189 628.54,188.99 628.98,188.99 629.41,188.99 629.84,188.98 630.27,188.98 630.7,188.97 631.13,188.97 631.57,188.97 632,188.96 632.43,188.96 632.86,188.96 633.29,188.95 633.72,188.95 634.16,188.95 634.59,188.94 635.02,188.94 635.45,188.94 635.88,188.93 636.31,188.93 636.75,188.93 637.18,188.93 637.61,188.92 638.04,188.92 638.47,188.92 638.9,188.91 639.33,188.91 639.77,188.91 640.2,188.91 640.63,188.9 641.06,188.9 641.49,188.9 641.92,188.89 642.36,188.89 642.79,188.89 643.22,188.89 643.65,188.88 644.08,188.88 644.51,188.88 644.95,188.88 645.38,188.87 645.81,188.87 646.24,188.87 646.67,188.87 647.1,188.86 647.54,188.86 647.97,188.86 648.4,188.86 648.83,188.85 649.26,188.85 649.69,188.85 650.12,188.85 650.56,188.85 650.99,188.85 651.42,188.85 651.85,188.85 652.28,188.85 652.71,188.85 653.15,188.85 653.58,188.85 654.01,188.85 654.44,188.85 654.87,188.85 655.3,188.85 655.74,188.85 656.17,188.85 656.6,188.85 657.03,188.85 657.46,188.85 657.89,188.85 658.33,188.85 658.76,188.85 659.19,188.85 659.62,188.85 660.05,188.85 660.48,188.85 660.91,188.85 661.35,188.85 661.78,188.85 662.21,188.85 662.64,188.85 663.07,188.85 663.5,188.85 663.94,188.85 664.37,188.85 664.8,188.85 665.23,188.85 665.66,188.85 666.09,188.85 666.53,188.85 666.96,188.85 667.39,188.85 667.82,188.85 668.25,188.85 668.68,188.85 669.12,188.85 669.55,188.85 669.98,188.85 670.41,188.85 670.84,188.85 671.27,188.85 671.7,188.85 672.14,188.85 672.57,188.85 673,188.85 673.43,188.85 673.86,188.85 674.29,188.85 674.73,188.85 675.16,188.85 675.59,188.85 676.02,188.85 676.45,188.85 676.88,188.85" stroke="#0000FF" stroke-width="1.5" fill="none" stroke-linejoin="round" stroke-linecap="butt"/>
<polyline points="519.35,185.82 519.78,185.82 520.21,185.83 520.64,185.83 521.08,185.84 521.51,185.85 521.94,185.86 522.37,185.87 522.8,185.89 523.23,185.9 523.67,185.92 524.1,185.95 524.53,185.97 524.96,186 525.39,186.03 525.82,186.06 526.26,186.09 526.69,186.12 527.12,186.15 527.55,186.18 527.98,186.22 528.41,186.25 528.85,186.28 529.28,186.32 529.71,186.35 530.14,186.38 530.57,186.42 531,186.45 531.43,186.48 531.87,186.51 532.3,186.55 532.73,186.58 533.16,186.61 533.59,186.64 534.02,186.67 534.46,186.69 534.89,186.72 535.32,186.75 535.75,186.78 536.18,186.8 536.61,186.83 537.05,186.85 537.48,186.88 537.91,186.9 538.34,186.93 538.77,186.95 539.2,186.97 539.64,186.99 540.07,187.02 540.5,187.04 540.93,187.06 541.36,187.08 541.79,187.1 542.22,187.12 542.66,187.14 543.09,187.16 543.52,187.18 543.95,187.19 544.38,187.21 544.81,187.23 545.25,187.25 545.68,187.26 546.11,187.28 546.54,187.3 546.97,187.31 547.4,187.33 547.84,187.34 548.27,187.36 548.7,187.37 549.13,187.39 549.56,187.4 549.99,187.41 550.43,187.43 550.86,187.44 551.29,187.46 551.72,187.47 552.15,187.48 552.58,187.5 553.01,187.51 553.45,187.52 553.88,187.54 554.31,187.55 554.74,187.56 555.17,187.58 555.6,187.59 556.04,187.6 556.47,187.62 556.9,187.63 557.33,187.64 557.76,187.65 558.19,187.67 558.63,187.68 559.06,187.69 559.49,187.7 559.92,187.72 560.35,187.73 560.78,187.74 561.22,187.75 561.65,187.76 562.08,187.78 562.51,187.79 562.94,187.8 563.37,187.81 563.8,187.82 564.24,187.84 564.67,187.85 565.1,187.86 565.53,187.87 565.96,187.88 566.39,187.9 566.83,187.91 567.26,187.92 567.69,187.93 568.12,187.94 568.55,187.95 568.98,187.96 569.42,187.98 569.85,187.99 570.28,188 570.71,188.01 571.14,188.02 571.57,188.03 572.01,188.04 572.44,188.06 572.87,188.07 573.3,188.08 573.73,188.09 574.16,188.1 574.59,188.11 575.03,188.12 575.46,188.13 575.89,188.14 576.32,188.16 576.75,188.17 577.18,188.18 577.62,188.19 578.05,188.2 578.48,188.21 578.91,188.22 579.34,188.23 579.77,188.24 580.21,188.25 580.64,188.27 581.07,188.28 581.5,188.29 581.93,188.3 582.36,188.31 582.8,188.32 583.23,188.33 583.66,188.34 584.09,188.35 584.52,188.36 584.95,188.36 585.38,188.37 585.82,188.38 586.25,188.39 586.68,188.41 587.11,188.42 587.54,188.43 587.97,188.44 588.41,188.44 588.84,188.44 589.27,188.43 589.7,188.42 590.13,188.41 590.56,188.39 591,188.37 591.43,188.35 591.86,188.32 592.29,188.3 592.72,188.27 593.15,188.24 593.59,188.21 594.02,188.18 594.45,188.14 594.88,188.11 595.31,188.07 595.74,188.04 596.17,188.01 596.61,187.97 597.04,187.94 597.47,187.9 597.9,187.87 598.33,187.83 598.76,187.8 599.2,187.76 599.63,187.73 600.06,187.7 600.49,187.66 600.92,187.63 601.35,187.6 601.79,187.56 602.22,187.53 602.65,187.5 603.08,187.47 603.51,187.44 603.94,187.41 604.38,187.38 604.81,187.35 605.24,187.32 605.67,187.3 606.1,187.27 606.53,187.24 606.96,187.22 607.4,187.19 607.83,187.16 608.26,187.14 608.69,187.11 609.12,187.09 609.55,187.06 609.99,187.04 610.42,187.02 610.85,186.99 611.28,186.97 611.71,186.95 612.14,186.93 612.58,186.91 613.01,186.88 613.44,186.86 613.87,186.84 614.3,186.82 614.73,186.8 615.17,186.78 615.6,186.76 616.03,186.74 616.46,186.73 616.89,186.71 617.32,186.69 617.75,186.67 618.19,186.65 618.62,186.64 619.05,186.62 619.48,186.6 619.91,186.59 620.34,186.57 620.78,186.56 621.21,186.54 621.64,186.53 622.07,186.51 622.5,186.5 622.93,186.48 623.37,186.47 623.8,186.46 624.23,186.44 624.66,186.43 625.09,186.42 625.52,186.4 625.96,186.39 626.39,186.38 626.82,186.37 627.25,186.35 627.68,186.34 628.11,186.33 628.54,186.32 628.98,186.31 629.41,186.29 629.84,186.28 630.27,186.27 630.7,186.26 631.13,186.25 631.57,186.24 632,186.23 632.43,186.22 632.86,186.21 633.29,186.2 633.72,186.19 634.16,186.18 634.59,186.17 635.02,186.16 635.45,186.15 635.88,186.14 636.31,186.14 636.75,186.13 637.18,186.12 637.61,186.11 638.04,186.1 638.47,186.09 638.9,186.08 639.33,186.08 639.77,186.07 640.2,186.06 640.63,186.05 641.06,186.05 641.49,186.04 641.92,186.03 642.36,186.02 642.79,186.02 643.22,186.01 643.65,186 644.08,186 644.51,185.99 644.95,185.98 645.38,185.97 645.81,185.97 646.24,185.96 646.67,185.96 647.1,185.95 647.54,185.94 647.97,185.94 648.4,185.93 648.83,185.92 649.26,185.92 649.69,185.91 650.12,185.91 650.56,185.9 650.99,185.9 651.42,185.89 651.85,185.89 652.28,185.88 652.71,185.88 653.15,185.87 653.58,185.87 654.01,185.86 654.44,185.86 654.87,185.86 655.3,185.85 655.74,185.85 656.17,185.84 656.6,185.84 657.03,185.83 657.46,185.83 657.89,185.82 658.33,185.82 658.76,185.82 659.19,185.81 659.62,185.81 660.05,185.8 660.48,185.8 660.91,185.8 661.35,185.79 661.78,185.79 662.21,185.79 662.64,185.78 663.07,185.78 663.5,185.78 663.94,185.77 664.37,185.77 664.8,185.76 665.23,185.76 665.66,185.76 666.09,185.75 666.53,185.75 666.96,185.75 667.39,185.74 667.82,185.74 668.25,185.74 668.68,185.73 669.12,185.73 669.55,185.73 669.98,185.73 670.41,185.72 670.84,185.72 671.27,185.72 671.7,185.71 672.14,185.71 672.57,185.71 673,185.7 673.43,185.7 673.86,185.7 674.29,185.7 674.73,185.69 675.16,185.69 675.59,185.69 676.02,185.69 676.45,185.68 676.88,185.68" stroke="#FF0000" stroke-width="1.5" fill="none" stroke-linejoin="round" stroke-linecap="butt"/>
<polyline points="519.35,171.34 519.78,171.58 520.21,171.82 520.64,172.06 521.08,172.29 521.51,172.52 521.94,172.74 522.37,172.96 522.8,173.18 523.23,173.4 523.67,173.61 524.1,173.82 524.53,174.02 524.96,174.22 525.39,174.42 525.82,174.62 526.26,174.81 526.69,175 527.12,175.18 527.55,175.36 527.98,175.54 528.41,175.72 528.85,175.89 529.28,176.06 529.71,176.23 530.14,176.39 530.57,176.55 531,176.71 531.43,176.87 531.87,177.02 532.3,177.17 532.73,177.31 533.16,177.46 533.59,177.6 534.02,177.74 534.46,177.87 534.89,178.01 535.32,178.14 535.75,178.26 536.18,178.39 536.61,178.51 537.05,178.63 537.48,178.74 537.91,178.85 538.34,178.96 538.77,179.07 539.2,179.18 539.64,179.28 540.07,179.38 540.5,179.48 540.93,179.57 541.36,179.67 541.79,179.76 542.22,179.85 542.66,179.94 543.09,180.02 543.52,180.1 543.95,180.18 544.38,180.26 544.81,180.34 545.25,180.41 545.68,180.49 546.11,180.56 546.54,180.63 546.97,180.69 547.4,180.76 547.84,180.82 548.27,180.88 548.7,180.94 549.13,181 549.56,181.06 549.99,181.11 550.43,181.17 550.86,181.22 551.29,181.27 551.72,181.32 552.15,181.36 552.58,181.41 553.01,181.45 553.45,181.5 553.88,181.54 554.31,181.58 554.74,181.61 555.17,181.65 555.6,181.69 556.04,181.72 556.47,181.76 556.9,181.79 557.33,181.82 557.76,181.85 558.19,181.88 558.63,181.9 559.06,181.93 559.49,181.96 559.92,181.98 560.35,182 560.78,182.03 561.22,182.05 561.65,182.07 562.08,182.09 562.51,182.11 562.94,182.12 563.37,182.14 563.8,182.15 564.24,182.16 564.67,182.18 565.1,182.19 565.53,182.2 565.96,182.21 566.39,182.22 566.83,182.23 567.26,182.24 567.69,182.25 568.12,182.26 568.55,182.26 568.98,182.27 569.42,182.28 569.85,182.28 570.28,182.29 570.71,182.3 571.14,182.3 571.57,182.31 572.01,182.31 572.44,182.32 572.87,182.32 573.3,182.33 573.73,182.33 574.16,182.34 574.59,182.34 575.03,182.34 575.46,182.35 575.89,182.35 576.32,182.36 576.75,182.36 577.18,182.37 577.62,182.37 578.05,182.38 578.48,182.38 578.91,182.39 579.34,182.4 579.77,182.4 580.21,182.41 580.64,182.42 581.07,182.42 581.5,182.43 581.93,182.44 582.36,182.45 582.8,182.46 583.23,182.47 583.66,182.48 584.09,182.49 584.52,182.51 584.95,182.53 585.38,182.54 585.82,182.54 586.25,182.53 586.68,182.51 587.11,182.47 587.54,182.43 587.97,182.39 588.41,182.36 588.84,182.32 589.27,182.27 589.7,182.23 590.13,182.18 590.56,182.13 591,182.08 591.43,182.03 591.86,181.97 592.29,181.91 592.72,181.85 593.15,181.79 593.59,181.73 594.02,181.66 594.45,181.6 594.88,181.53 595.31,181.46 595.74,181.39 596.17,181.32 596.61,181.24 597.04,181.17 597.47,181.09 597.9,181.01 598.33,180.93 598.76,180.85 599.2,180.77 599.63,180.69 600.06,180.6 600.49,180.52 600.92,180.43 601.35,180.35 601.79,180.26 602.22,180.17 602.65,180.08 603.08,179.99 603.51,179.9 603.94,179.81 604.38,179.72 604.81,179.63 605.24,179.53 605.67,179.44 606.1,179.35 606.53,179.26 606.96,179.16 607.4,179.07 607.83,178.97 608.26,178.88 608.69,178.79 609.12,178.69 609.55,178.6 609.99,178.5 610.42,178.41 610.85,178.31 611.28,178.22 611.71,178.13 612.14,178.04 612.58,177.94 613.01,177.85 613.44,177.76 613.87,177.67 614.3,177.58 614.73,177.49 615.17,177.4 615.6,177.31 616.03,177.22 616.46,177.13 616.89,177.05 617.32,176.96 617.75,176.88 618.19,176.79 618.62,176.71 619.05,176.63 619.48,176.54 619.91,176.46 620.34,176.38 620.78,176.3 621.21,176.22 621.64,176.14 622.07,176.06 622.5,175.98 622.93,175.91 623.37,175.83 623.8,175.75 624.23,175.68 624.66,175.6 625.09,175.53 625.52,175.46 625.96,175.38 626.39,175.31 626.82,175.24 627.25,175.17 627.68,175.1 628.11,175.03 628.54,174.97 628.98,174.9 629.41,174.83 629.84,174.77 630.27,174.7 630.7,174.64 631.13,174.58 631.57,174.51 632,174.45 632.43,174.39 632.86,174.33 633.29,174.27 633.72,174.21 634.16,174.15 634.59,174.09 635.02,174.04 635.45,173.98 635.88,173.93 636.31,173.87 636.75,173.82 637.18,173.76 637.61,173.71 638.04,173.66 638.47,173.61 638.9,173.56 639.33,173.51 639.77,173.46 640.2,173.41 640.63,173.36 641.06,173.32 641.49,173.27 641.92,173.23 642.36,173.18 642.79,173.14 643.22,173.1 643.65,173.05 644.08,173.01 644.51,172.97 644.95,172.93 645.38,172.89 645.81,172.85 646.24,172.82 646.67,172.78 647.1,172.74 647.54,172.71 647.97,172.67 648.4,172.64 648.83,172.61 649.26,172.58 649.69,172.55 650.12,172.52 650.56,172.49 650.99,172.47 651.42,172.44 651.85,172.42 652.28,172.39 652.71,172.37 653.15,172.35 653.58,172.32 654.01,172.3 654.44,172.28 654.87,172.26 655.3,172.24 655.74,172.23 656.17,172.21 656.6,172.19 657.03,172.18 657.46,172.16 657.89,172.15 658.33,172.13 658.76,172.12 659.19,172.11 659.62,172.1 660.05,172.09 660.48,172.08 660.91,172.07 661.35,172.06 661.78,172.05 662.21,172.05 662.64,172.04 663.07,172.03 663.5,172.03 663.94,172.03 664.37,172.02 664.8,172.02 665.23,172.02 665.66,172.02 666.09,172.02 666.53,172.01 666.96,172.01 667.39,172 667.82,172 668.25,171.99 668.68,171.99 669.12,171.99 669.55,171.99 669.98,171.99 670.41,171.99 670.84,171.99 671.27,171.99 671.7,171.99 672.14,172 672.57,172 673,172 673.43,172.01 673.86,172.02 674.29,172.02 674.73,172.03 675.16,172.04 675.59,172.05 676.02,172.06 676.45,172.07 676.88,172.08" stroke="#00FF00" stroke-width="1.5" fill="none" stroke-linejoin="round" stroke-linecap="butt"/>
<polyline points="519.35,58.06 519.78,57.87 520.21,58.03 520.64,58.52 521.08,59.33 521.51,60.43 521.94,61.82 522.37,63.47 522.8,65.33 523.23,67.37 523.67,69.55 524.1,71.81 524.53,74.13 524.96,76.47 525.39,78.81 525.82,81.15 526.26,83.48 526.69,85.8 527.12,88.1 527.55,90.38 527.98,92.63 528.41,94.84 528.85,97 529.28,99.11 529.71,101.17 530.14,103.17 530.57,105.1 531,106.95 531.43,108.73 531.87,110.41 532.3,112.01 532.73,113.54 533.16,114.98 533.59,116.35 534.02,117.66 534.46,118.9 534.89,120.08 535.32,121.2 535.75,122.27 536.18,123.29 536.61,124.27 537.05,125.2 537.48,126.1 537.91,126.96 538.34,127.8 538.77,128.61 539.2,129.4 539.64,130.16 540.07,130.9 540.5,131.62 540.93,132.32 541.36,132.99 541.79,133.65 542.22,134.28 542.66,134.89 543.09,135.48 543.52,136.06 543.95,136.61 544.38,137.15 544.81,137.67 545.25,138.17 545.68,138.65 546.11,139.12 546.54,139.57 546.97,140.01 547.4,140.43 547.84,140.84 548.27,141.23 548.7,141.61 549.13,141.98 549.56,142.33 549.99,142.67 550.43,143 550.86,143.32 551.29,143.63 551.72,143.92 552.15,144.21 552.58,144.48 553.01,144.75 553.45,145 553.88,145.25 554.31,145.48 554.74,145.71 555.17,145.93 555.6,146.14 556.04,146.34 556.47,146.53 556.9,146.72 557.33,146.9 557.76,147.07 558.19,147.23 558.63,147.39 559.06,147.54 559.49,147.69 559.92,147.83 560.35,147.96 560.78,148.09 561.22,148.22 561.65,148.34 562.08,148.45 562.51,148.56 562.94,148.67 563.37,148.77 563.8,148.87 564.24,148.97 564.67,149.07 565.1,149.16 565.53,149.25 565.96,149.34 566.39,149.42 566.83,149.51 567.26,149.59 567.69,149.68 568.12,149.76 568.55,149.84 568.98,149.92 569.42,149.99 569.85,150.07 570.28,150.15 570.71,150.22 571.14,150.3 571.57,150.37 572.01,150.45 572.44,150.52 572.87,150.6 573.3,150.67 573.73,150.75 574.16,150.82 574.59,150.9 575.03,150.97 575.46,151.05 575.89,151.13 576.32,151.2 576.75,151.28 577.18,151.36 577.62,151.44 578.05,151.52 578.48,151.61 578.91,151.69 579.34,151.77 579.77,151.85 580.21,151.93 580.64,152 581.07,152.07 581.5,152.14 581.93,152.19 582.36,152.24 582.8,152.29 583.23,152.32 583.66,152.34 584.09,152.35 584.52,152.35 584.95,152.33 585.38,152.3 585.82,152.26 586.25,152.2 586.68,152.12 587.11,152.03 587.54,151.91 587.97,151.78 588.41,151.62 588.84,151.45 589.27,151.25 589.7,151.02 590.13,150.78 590.56,150.51 591,150.22 591.43,149.92 591.86,149.59 592.29,149.24 592.72,148.88 593.15,148.49 593.59,148.09 594.02,147.67 594.45,147.24 594.88,146.79 595.31,146.33 595.74,145.85 596.17,145.36 596.61,144.85 597.04,144.34 597.47,143.81 597.9,143.27 598.33,142.71 598.76,142.15 599.2,141.58 599.63,140.99 600.06,140.4 600.49,139.8 600.92,139.18 601.35,138.56 601.79,137.93 602.22,137.29 602.65,136.64 603.08,135.98 603.51,135.32 603.94,134.65 604.38,133.97 604.81,133.29 605.24,132.6 605.67,131.9 606.1,131.2 606.53,130.49 606.96,129.77 607.4,129.05 607.83,128.33 608.26,127.6 608.69,126.87 609.12,126.14 609.55,125.4 609.99,124.66 610.42,123.91 610.85,123.17 611.28,122.42 611.71,121.67 612.14,120.91 612.58,120.16 613.01,119.4 613.44,118.65 613.87,117.89 614.3,117.14 614.73,116.38 615.17,115.62 615.6,114.87 616.03,114.11 616.46,113.36 616.89,112.61 617.32,111.86 617.75,111.11 618.19,110.37 618.62,109.63 619.05,108.89 619.48,108.15 619.91,107.42 620.34,106.69 620.78,105.97 621.21,105.25 621.64,104.53 622.07,103.82 622.5,103.12 622.93,102.42 623.37,101.73 623.8,101.04 624.23,100.36 624.66,99.68 625.09,99.01 625.52,98.34 625.96,97.68 626.39,97.02 626.82,96.37 627.25,95.73 627.68,95.09 628.11,94.46 628.54,93.84 628.98,93.22 629.41,92.6 629.84,91.99 630.27,91.39 630.7,90.79 631.13,90.2 631.57,89.62 632,89.04 632.43,88.47 632.86,87.9 633.29,87.34 633.72,86.79 634.16,86.24 634.59,85.7 635.02,85.17 635.45,84.64 635.88,84.12 636.31,83.61 636.75,83.1 637.18,82.6 637.61,82.1 638.04,81.62 638.47,81.13 638.9,80.66 639.33,80.19 639.77,79.73 640.2,79.28 640.63,78.83 641.06,78.39 641.49,77.96 641.92,77.53 642.36,77.11 642.79,76.7 643.22,76.3 643.65,75.9 644.08,75.51 644.51,75.13 644.95,74.75 645.38,74.38 645.81,74.02 646.24,73.67 646.67,73.32 647.1,72.98 647.54,72.65 647.97,72.33 648.4,72.01 648.83,71.7 649.26,71.4 649.69,71.11 650.12,70.82 650.56,70.55 650.99,70.28 651.42,70.01 651.85,69.76 652.28,69.51 652.71,69.27 653.15,69.03 653.58,68.8 654.01,68.58 654.44,68.36 654.87,68.15 655.3,67.95 655.74,67.74 656.17,67.55 656.6,67.36 657.03,67.17 657.46,66.99 657.89,66.81 658.33,66.64 658.76,66.46 659.19,66.3 659.62,66.13 660.05,65.97 660.48,65.82 660.91,65.66 661.35,65.51 661.78,65.36 662.21,65.21 662.64,65.06 663.07,64.92 663.5,64.77 663.94,64.63 664.37,64.49 664.8,64.35 665.23,64.21 665.66,64.07 666.09,63.93 666.53,63.79 666.96,63.65 667.39,63.51 667.82,63.37 668.25,63.23 668.68,63.09 669.12,62.96 669.55,62.82 669.98,62.69 670.41,62.55 670.84,62.42 671.27,62.3 671.7,62.17 672.14,62.06 672.57,61.94 673,61.83 673.43,61.73 673.86,61.63 674.29,61.54 674.73,61.45 675.16,61.37 675.59,61.3 676.02,61.24 676.45,61.18 676.88,61.14" stroke="#FFA500" stroke-width="1.5" fill="none" stroke-linejoin="round" stroke-linecap="butt"/>
<path d="M508.35 204H511.95M508.35 169.26H511.95M508.35 134.52H511.95M508.35 99.78H511.95M508.35 65.04H511.95M508.35 30.3H511.95M519.35 212.7V216M562.51 212.7V216M605.67 212.7V216M648.83 212.7V216" stroke="#333333" stroke-width="1.6" fill="none"/>
<text x="505.57" y="208.3" text-anchor="end" class="ax">0.25</text>
<text x="505.57" y="173.56" text-anchor="end" class="ax">0.30</text>
<text x="505.57" y="138.82" text-anchor="end" class="ax">0.35</text>
<text x="505.57" y="104.08" text-anchor="end" class="ax">0.40</text>
<text x="505.57" y="69.34" text-anchor="end" class="ax">0.45</text>
<text x="505.57" y="34.6" text-anchor="end" class="ax">0.50</text>
<text x="519.35" y="226.7" text-anchor="middle" class="ax">0</text>
<text x="562.51" y="226.7" text-anchor="middle" class="ax">100</text>
<text x="605.67" y="226.7" text-anchor="middle" class="ax">200</text>
<text x="648.83" y="226.7" text-anchor="middle" class="ax">300</text>
<text x="598.36" y="242.0" text-anchor="middle" class="at">time (days)</text>
<text x="598.36" y="11.6" text-anchor="middle" class="tt">c</text>
<text transform="translate(475.4 117.15) rotate(-90)" x="0" y="0" text-anchor="middle" class="at">C (pg/ml)</text>
</svg>
</body></html>
